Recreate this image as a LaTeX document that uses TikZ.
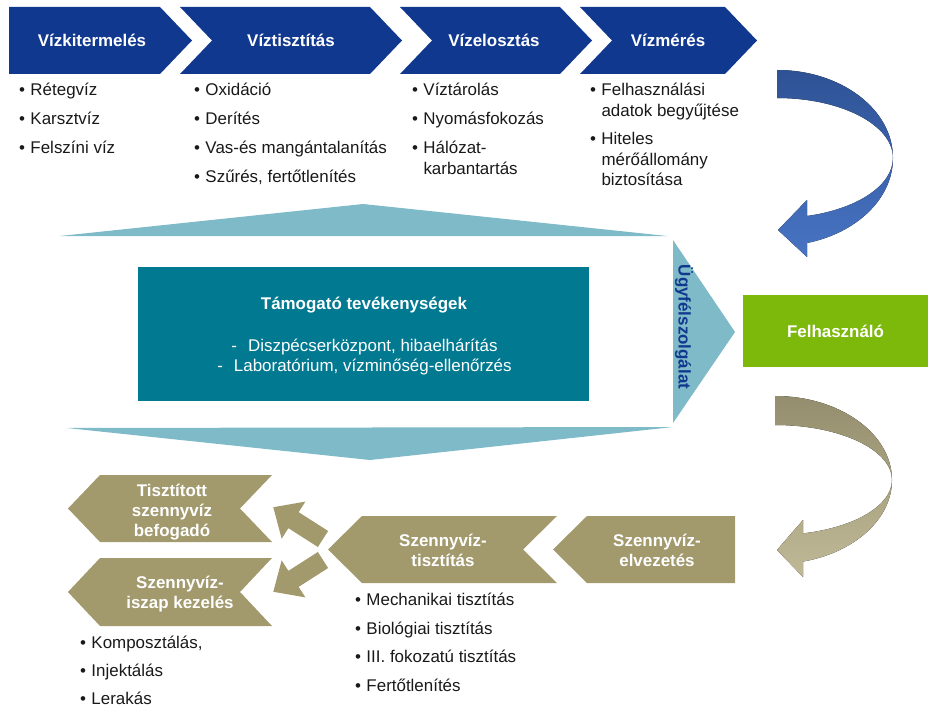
\documentclass[tikz,border=0pt]{standalone}
\usepackage{fontspec}
\setmainfont{Liberation Sans}
\definecolor{cnavy}{RGB}{17,56,143}
\definecolor{clteal}{RGB}{126,186,200}
\definecolor{cdteal}{RGB}{0,121,145}
\definecolor{cgreen}{RGB}{125,185,10}
\definecolor{ckhaki}{RGB}{162,153,108}
\definecolor{ctxt}{RGB}{25,25,25}
\definecolor{cbluedk}{RGB}{46,82,148}
\definecolor{cbluemd}{RGB}{58,98,172}
\definecolor{cbluelt}{RGB}{72,116,194}
\definecolor{ckhdk}{RGB}{148,141,110}
\definecolor{ckhmd}{RGB}{170,163,128}
\definecolor{ckhlt}{RGB}{192,185,152}
\newcommand\bul{\makebox[11.5bp][l]{\textbullet}}
\begin{document}
\begin{tikzpicture}[x=1bp,y=-1bp,
  every node/.style={inner sep=0pt, outer sep=0pt},
  itm/.style={anchor=base west, text=ctxt, font=\fontsize{17}{20}\selectfont},
  hd/.style={anchor=base, text=white, font=\fontsize{17}{20}\selectfont\bfseries},
  wt/.style={anchor=base, text=white, font=\fontsize{17}{20}\selectfont},
  chev/.style={fill=cnavy},
  kchev/.style={fill=ckhaki},
  wedge/.style={fill=clteal}]
\useasboundingbox (0,0) rectangle (945,718);

% ---------- top chevrons ----------
\fill[chev] (9,7) -- (160,7) -- (192,40.5) -- (160,74) -- (9,74) -- cycle;
\fill[chev] (180,7) -- (370,7) -- (402,40.5) -- (370,74) -- (180,74) -- (212,40.5) -- cycle;
\fill[chev] (400,7) -- (560,7) -- (592,40.5) -- (560,74) -- (400,74) -- (432,40.5) -- cycle;
\fill[chev] (580,7) -- (725,7) -- (757,40.5) -- (725,74) -- (580,74) -- (612,40.5) -- cycle;
\node[hd] (h1) at (92,46.5) {Vízkitermelés};
\node[hd] (h2) at (291,46.5) {Víztisztítás};
\node[hd] (h3) at (494,46.5) {Vízelosztás};
\node[hd] (h4) at (668,46.5) {Vízmérés};

% ---------- top bullet lists ----------
\node[itm] (a1) at (19,96) {\bul Rétegvíz};
\node[itm] (a2) at (19,125) {\bul Karsztvíz};
\node[itm] (a3) at (19,154) {\bul Felszíni víz};

\node[itm] (b1) at (194,96) {\bul Oxidáció};
\node[itm] (b2) at (194,125) {\bul Derítés};
\node[itm] (b3) at (194,154) {\bul Vas-és mangántalanítás};
\node[itm] (b4) at (194,183) {\bul Szűrés, fertőtlenítés};

\node[itm] (c1) at (412,96) {\bul Víztárolás};
\node[itm] (c2) at (412,125) {\bul Nyomásfokozás};
\node[itm] (c3) at (412,154) {\bul Hálózat-};
\node[itm] (c3b) at (423.5,174.5) {karbantartás};

\node[itm] (d1) at (590,96) {\bul Felhasználási};
\node[itm] (d1b) at (601.5,116.5) {adatok begyűjtése};
\node[itm] (d2) at (590,145) {\bul Hiteles};
\node[itm] (d2b) at (601.5,165.5) {mérőállomány};
\node[itm] (d2c) at (601.5,186) {biztosítása};

% ---------- blue curved arrow ----------
\fill[top color=cbluedk, bottom color=cbluemd] (777,70)
  arc[start angle=-90, end angle=0, x radius=116, y radius=88]
  arc[start angle=0, end angle=-90, x radius=116, y radius=60] -- cycle;
\fill[top color=cbluemd, bottom color=cbluelt] (893,158)
  arc[start angle=0, end angle=75, x radius=116, y radius=88]
  -- (807,257) -- (778,230) -- (807,200) -- (807,216)
  arc[start angle=75, end angle=0, x radius=116, y radius=60] -- cycle;

% ---------- support block ----------
\fill[wedge] (60,236) -- (363,204) -- (667,236) -- cycle;
\fill[wedge] (673,240) -- (735,332) -- (673,423) -- cycle;
\fill[wedge] (67,428) -- (673,427) -- (370,460) -- cycle;
\node[fill=cdteal, minimum width=451bp, minimum height=134bp, anchor=north west] (tam) at (138,267) {};
\node[hd] (tamt) at (364,309.5) {Támogató tevékenységek};
\node[wt] (tam1) at (364.5,351) {-\hspace{11bp}Diszpécserközpont, hibaelhárítás};
\node[wt] (tam2) at (364.5,371) {-\hspace{11bp}Laboratórium, vízminőség-ellenőrzés};
\node[rotate=-90, text=cnavy, font=\fontsize{17}{20}\selectfont\bfseries] (ugy) at (684,327) {Ügyfélszolgálat};

% ---------- user ----------
\node[fill=cgreen, minimum width=185bp, minimum height=72bp, text=white,
  font=\fontsize{17}{20}\selectfont\bfseries] (felh) at (835.5,331) {Felhasználó};

% ---------- khaki curved arrow ----------
\fill[top color=ckhdk, bottom color=ckhmd] (775,396)
  arc[start angle=-90, end angle=0, x radius=117, y radius=84]
  arc[start angle=0, end angle=-90, x radius=117, y radius=55] -- cycle;
\fill[top color=ckhmd, bottom color=ckhlt] (892,480)
  arc[start angle=0, end angle=76.15, x radius=117, y radius=84]
  -- (803,577) -- (777,550) -- (803,520) -- (803,533.4)
  arc[start angle=76.15, end angle=0, x radius=117, y radius=55] -- cycle;

% ---------- bottom chevrons ----------
\fill[kchev] (100,475) -- (272,475) -- (240,508.5) -- (272,542) -- (100,542) -- (68,508.5) -- cycle;
\fill[kchev] (100,558) -- (272,558) -- (240,592) -- (272,626) -- (100,626) -- (68,592) -- cycle;
\fill[kchev] (362,516) -- (557,516) -- (523,549.5) -- (557,583) -- (362,583) -- (328,549.5) -- cycle;
\fill[kchev] (587,516) -- (735,516) -- (735,583) -- (587,583) -- (553,549.5) -- cycle;

\node[hd] (e1) at (172,496) {Tisztított};
\node[hd] (e2) at (172,516) {szennyvíz};
\node[hd] (e3) at (172,536) {befogadó};
\node[hd] (f1) at (180,588) {Szennyvíz-};
\node[hd] (f2) at (180,608) {iszap kezelés};
\node[hd] (g1) at (443,546) {Szennyvíz-};
\node[hd] (g2) at (443,566) {tisztítás};
\node[hd] (k1) at (657,546) {Szennyvíz-};
\node[hd] (k2) at (657,566) {elvezetés};

% ---------- small block arrows ----------
\begin{scope}[shift={(323,539)}, rotate=147.4]
  \fill[ckhaki] (0,-9.5) -- (35,-9.5) -- (35,-22) -- (59,0) -- (35,22) -- (35,9.5) -- (0,9.5) -- cycle;
\end{scope}
\begin{scope}[shift={(323,560)}, rotate=212.6]
  \fill[ckhaki] (0,-9.5) -- (35,-9.5) -- (35,-22) -- (59,0) -- (35,22) -- (35,9.5) -- (0,9.5) -- cycle;
\end{scope}

% ---------- bottom bullet lists ----------
\node[itm] (m1) at (355,605) {\bul Mechanikai tisztítás};
\node[itm] (m2) at (355,634) {\bul Biológiai tisztítás};
\node[itm] (m3) at (355,662) {\bul III. fokozatú tisztítás};
\node[itm] (m4) at (355,691) {\bul Fertőtlenítés};

\node[itm] (n1) at (80,648) {\bul Komposztálás,};
\node[itm] (n2) at (80,676) {\bul Injektálás};
\node[itm] (n3) at (80,704) {\bul Lerakás};
\end{tikzpicture}
\end{document}
